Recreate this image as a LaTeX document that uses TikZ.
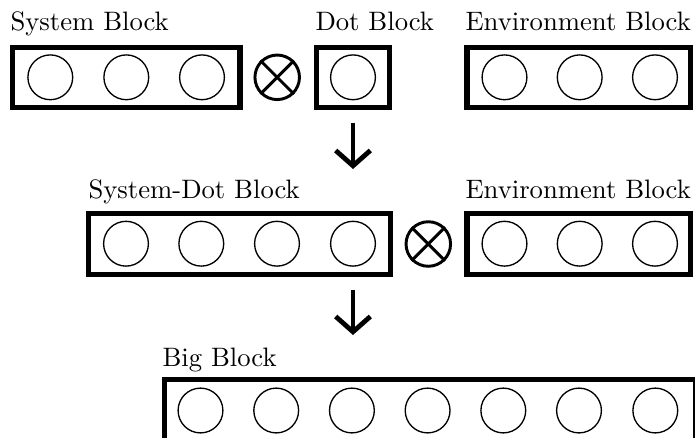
\documentclass[tikz,border=0pt]{standalone}
\usetikzlibrary{arrows.meta}

\tikzset{
  block/.style={draw, rectangle, line width=4.1pt, inner sep=0pt, outer sep=0pt},
  qubit/.style={draw, circle, line width=1pt, minimum size=33.6pt, inner sep=0pt},
  otimes/.style={draw, circle, line width=2.2pt, minimum size=33.4pt, inner sep=0pt},
  label/.style={anchor=base west, inner sep=0pt, scale=2.0},
  flow/.style={line width=3.6pt, -{Straight Barb[length=11.5pt, width=26pt]}}
}

\begin{document}
\begin{tikzpicture}[x=0.75pt, y=-0.75pt]
  \clip (0,0) rectangle (695,437);

  % ---- first row: system, product sign, dot, environment ----
  \node[block, minimum width=170.4pt, minimum height=45pt] (sys) at (126.35,77.75) {};
  \node[block, minimum width=54.4pt, minimum height=45pt] (dot) at (353,77.75) {};
  \node[block, minimum width=167.6pt, minimum height=45pt] (envA) at (578.5,77.75) {};

  \node[label] (sysL) at (10,30) {System Block};
  \node[label] (dotL) at (315,30) {Dot Block};
  \node[label] (envAL) at (465,30) {Environment Block};

  \foreach \i/\x in {1/50.3, 2/126.3, 3/202} \node[qubit] (s\i) at (\x,77.3) {};
  \node[qubit] (d1) at (353,77.3) {};
  \foreach \i/\x in {1/504.5, 2/579.7, 3/655} \node[qubit] (ea\i) at (\x,77.3) {};

  \node[otimes] (opA) at (277.2,77.3) {};
  \draw[line width=2.2pt] (opA.north west) -- (opA.south east)
                          (opA.north east) -- (opA.south west);

  % ---- second row: merged system-dot block and environment ----
  \node[block, minimum width=226.35pt, minimum height=45.4pt] (sd) at (239.65,244) {};
  \node[block, minimum width=167.6pt, minimum height=45.4pt] (envB) at (578.5,244) {};

  \node[label] (sdL) at (88,198) {System-Dot Block};
  \node[label] (envBL) at (465,198) {Environment Block};

  \foreach \i/\x in {1/126, 2/201.3, 3/277, 4/353} \node[qubit] (sd\i) at (\x,243.7) {};
  \foreach \i/\x in {1/504.5, 2/579.7, 3/655} \node[qubit] (eb\i) at (\x,243.7) {};

  \node[otimes] (opB) at (428.3,244) {};
  \draw[line width=2.2pt] (opB.north west) -- (opB.south east)
                          (opB.north east) -- (opB.south west);

  % ---- third row: the big block, running past the lower right edge ----
  \node[block, minimum width=398.1pt, minimum height=45.6pt] (big) at (429.85,409.85) {};
  \node[label] (bigL) at (162,366) {Big Block};
  \foreach \i/\x in {1/200.5, 2/276.2, 3/351.9, 4/427.6, 5/503.3, 6/579, 7/655.3}
    \node[qubit] (b\i) at (\x,410.5) {};

  % ---- arrows between the rows ----
  \coordinate (a1s) at (353,123);
  \coordinate (a1e) at (353,169);
  \coordinate (a2s) at (353,290);
  \coordinate (a2e) at (353,335);
  \draw[flow] (a1s) -- (a1e);
  \draw[flow] (a2s) -- (a2e);
\end{tikzpicture}
\end{document}
